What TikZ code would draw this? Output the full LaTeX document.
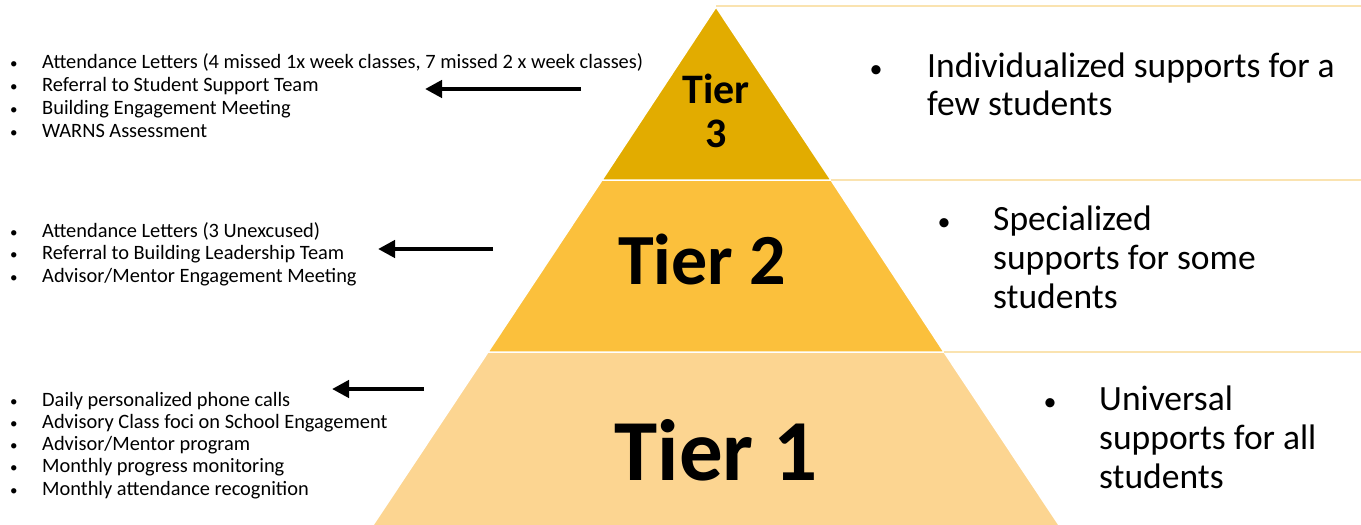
\documentclass[tikz,border=0pt]{standalone}
\usepackage{fontspec}
\setmainfont{Carlito}
\usetikzlibrary{arrows.meta}
\definecolor{tierthree}{RGB}{226,172,0}
\definecolor{tiertwo}{RGB}{251,192,60}
\definecolor{tierone}{RGB}{252,213,145}
\definecolor{band}{RGB}{250,227,176}
\tikzset{
  tierbox/.style={draw=white, line width=1.5pt},
  tierlabel/.style={inner sep=0pt, anchor=base, font=\bfseries},
  leftlist/.style={inner sep=0pt, anchor=base west},
  rightbullet/.style={inner sep=0pt, anchor=base, font=\fontsize{26}{30}\selectfont},
  righttext/.style={inner sep=0pt, anchor=base west},
  bandline/.style={draw=band, line width=2.5pt},
  bigarrow/.style={line width=4.5pt, -{Triangle[length=17pt,width=17pt]}}
}
\newcommand{\litem}[1]{\makebox[32pt][l]{\fontsize{15}{15}\selectfont\textbullet}#1\par}
\begin{document}
\begin{tikzpicture}[x=1pt,y=-1pt]
\useasboundingbox (0,0) rectangle (1361,525);
\fill[white] (0,0) rectangle (1361,525);
% pyramid
\coordinate (apex) at (716,7);
\coordinate (l3) at (602,180);
\coordinate (r3) at (831,180);
\coordinate (l2) at (488,352);
\coordinate (r2) at (944,352);
\coordinate (l1) at (371,528);
\coordinate (r1) at (1061,528);
\filldraw[tierbox, fill=tierone] (l2) -- (r2) -- (r1) -- (l1) -- cycle;
\filldraw[tierbox, fill=tiertwo] (l3) -- (r3) -- (r2) -- (l2) -- cycle;
\filldraw[tierbox, fill=tierthree] (apex) -- (r3) -- (l3) -- cycle;
% band lines to the right
\coordinate (e0) at (1361,6);
\coordinate (e3) at (1361,180);
\coordinate (e2) at (1361,352);
\coordinate (t0) at (716,6);
\draw[bandline] (t0) -- (e0);
\draw[bandline] (r3) -- (e3);
\draw[bandline] (r2) -- (e2);
% tier labels
\node[tierlabel, font=\bfseries\fontsize{42}{44}\selectfont] (t3a) at (716,103) {Tier};
\node[tierlabel, font=\bfseries\fontsize{42}{44}\selectfont] (t3b) at (716,147) {3};
\node[tierlabel, font=\bfseries\fontsize{72}{80}\selectfont] (t2) at (702,284) {Tier 2};
\node[tierlabel, font=\bfseries\fontsize{87}{96}\selectfont] (t1) at (716,480) {Tier 1};
% right descriptions
\node[rightbullet] (b3) at (876,77) {\textbullet};
\node[righttext] (d3) at (927,77) {\parbox[t]{430pt}{\fontsize{35.5}{38.5}\selectfont Individualized supports for a\\few students}};
\node[rightbullet] (b2) at (944,230) {\textbullet};
\node[righttext] (d2) at (993,230) {\parbox[t]{360pt}{\fontsize{35.5}{39}\selectfont Specialized\\supports for some\\students}};
\node[rightbullet] (b1) at (1050,410) {\textbullet};
\node[righttext] (d1) at (1099,410) {\parbox[t]{260pt}{\fontsize{35.5}{39}\selectfont Universal\\supports for all\\students}};
% left lists
\node[leftlist] (list3) at (10,68) {\parbox[t]{700pt}{\fontsize{20.4}{23}\selectfont
\litem{Attendance Letters (4 missed 1x week classes, 7 missed 2 x week classes)}
\litem{Referral to Student Support Team}
\litem{Building Engagement Meeting}
\litem{WARNS Assessment}}};
\node[leftlist] (list2) at (10,237) {\parbox[t]{700pt}{\fontsize{20.4}{22.6}\selectfont
\litem{Attendance Letters (3 Unexcused)}
\litem{Referral to Building Leadership Team}
\litem{Advisor/Mentor Engagement Meeting}}};
\node[leftlist] (list1) at (10,406) {\parbox[t]{700pt}{\fontsize{20.4}{22.3}\selectfont
\litem{Daily personalized phone calls}
\litem{Advisory Class foci on School Engagement}
\litem{Advisor/Mentor program}
\litem{Monthly progress monitoring}
\litem{Monthly attendance recognition}}};
% arrows
\coordinate (a3s) at (581,89);
\coordinate (a3e) at (425,89);
\coordinate (a2s) at (493,249);
\coordinate (a2e) at (378,249);
\coordinate (a1s) at (424,389);
\coordinate (a1e) at (332,389);
\draw[bigarrow] (a3s) -- (a3e);
\draw[bigarrow] (a2s) -- (a2e);
\draw[bigarrow] (a1s) -- (a1e);
\end{tikzpicture}
\end{document}
